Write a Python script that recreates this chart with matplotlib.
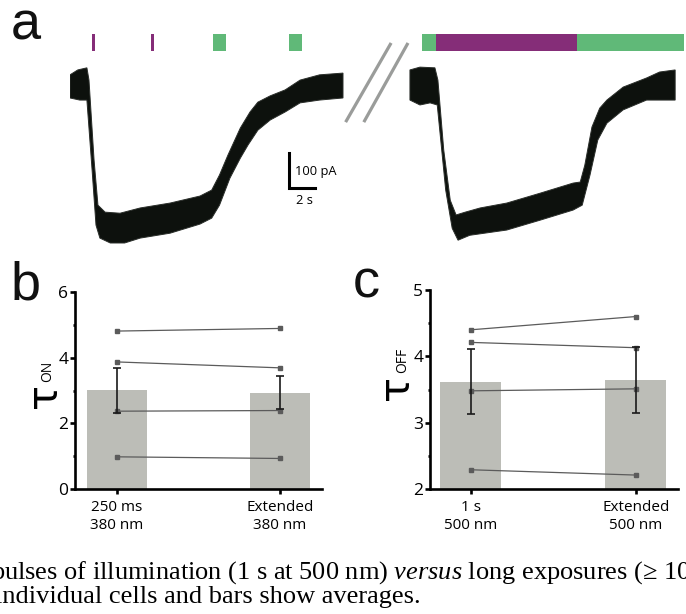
import matplotlib
matplotlib.use("Agg")
import matplotlib.pyplot as plt

# ---- panel a: envelopes of the two noisy current recordings (time s, current pA)
left_top_t = [0.0, 0.6, 1.3, 1.46, 1.85, 2.15, 2.7, 3.85, 5.4, 7.7, 10.0, 10.9, 11.5,
              12.15, 13.1, 13.85, 14.45, 15.4, 16.55, 17.7, 19.2, 21.0]
left_top_i = [29, 43, 49, 14, -214, -343, -363, -366, -351, -337, -317, -300, -257,
              -200, -123, -77, -49, -31, -14, 14, 29, 34]
left_bot_t = [21.0, 19.2, 17.7, 16.55, 15.4, 14.45, 13.7, 13.1, 12.3, 11.5, 10.9, 10.0,
              7.7, 5.4, 4.2, 3.1, 2.3, 2.0, 1.7, 1.3, 0.75, 0.0]
left_bot_i = [-37, -43, -51, -77, -100, -129, -171, -209, -266, -343, -380, -397,
              -423, -437, -451, -451, -437, -400, -243, -43, -43, -37]

right_top_t = [0.0, 0.77, 1.92, 2.15, 2.6, 3.1, 3.55, 4.25, 5.4, 7.45, 10.0, 12.55, 13.1,
               13.45, 14.0, 14.6, 15.15, 16.4, 18.2, 19.2, 20.4]
right_top_i = [43, 51, 49, 14, -186, -329, -371, -363, -351, -337, -309, -280, -277,
               -229, -120, -66, -43, -6, 20, 37, 43]
right_bot_t = [20.4, 19.2, 18.2, 16.4, 15.15, 14.45, 13.85, 13.25, 12.55, 10.0, 7.45,
               4.6, 3.7, 3.25, 2.75, 2.1, 1.55, 0.77, 0.0]
right_bot_i = [-43, -43, -43, -71, -109, -157, -257, -343, -357, -386, -414,
               -429, -443, -409, -300, -57, -51, -57, -43]
right_offset = 26.15  # where the second recording is drawn after the break

# stimulus bars (start s, duration s, wavelength)
left_stim_start = [1.7, 6.2, 11.0, 16.85]
left_stim_dur = [0.25, 0.25, 1.0, 1.0]
left_stim_nm = [380, 380, 500, 500]
right_stim_start = [0.9, 2.0, 12.85]
right_stim_dur = [1.1, 10.85, 8.25]
right_stim_nm = [500, 380, 500]

# ---- panel b: tau ON
on_labels = ["250 ms\n380 nm", "Extended\n380 nm"]
on_mean = [3.01, 2.93]
on_err = [0.69, 0.505]
on_cells = [[4.81, 4.89], [3.87, 3.69], [2.37, 2.39], [0.98, 0.93]]

# ---- panel c: tau OFF
off_labels = ["1 s\n500 nm", "Extended\n500 nm"]
off_mean = [3.62, 3.64]
off_err = [0.49, 0.50]
off_cells = [[4.40, 4.60], [4.21, 4.13], [3.48, 3.51], [2.29, 2.21]]

caption1 = r"pulses of illumination (1 s at 500 nm) $\mathit{versus}$ long exposures (≥ 10 s at 500 nm)"
caption2 = "individual cells and bars show averages."

plt.rcParams["font.family"] = ["Open Sans", "DejaVu Sans"]
plt.rcParams["mathtext.fontset"] = "custom"
plt.rcParams["mathtext.rm"] = "Liberation Serif"
plt.rcParams["mathtext.it"] = "Liberation Serif:italic"

W, H = 686, 614
fig = plt.figure(figsize=(W / 100, H / 100), dpi=100)

STIM_COL = {380: "#852d78", 500: "#60b978"}
TRACE = "#0d110d"
BAR = "#bcbdb7"
CELL = "#5b5b5b"


def px_axes(x0, y0, x1, y1):
    return fig.add_axes([x0 / W, 1 - y1 / H, (x1 - x0) / W, (y1 - y0) / H])


def ftext(x, y, s, **kw):
    fig.text(x / W, 1 - y / H, s, **kw)


# ---------------- panel a
ax = px_axes(70, 30, 686, 250)
ax.set_xlim(0, 616 / 13)
ax.set_ylim(-471, 157)
ax.axis("off")

for off, tt, ti, bt, bi in [(0, left_top_t, left_top_i, left_bot_t, left_bot_i),
                            (right_offset, right_top_t, right_top_i, right_bot_t, right_bot_i)]:
    xs = [t + off for t in tt] + [t + off for t in bt]
    ys = list(ti) + list(bi)
    ax.fill(xs, ys, color=TRACE, lw=0.7, ec="#2a2e2a")

for off, st, du, nm in [(0, left_stim_start, left_stim_dur, left_stim_nm),
                        (right_offset, right_stim_start, right_stim_dur, right_stim_nm)]:
    for s, d, w in zip(st, du, nm):
        ax.fill_between([s + off, s + off + d], 97, 146, color=STIM_COL[w], lw=0)

# break marks
for t0, t1 in [(21.2, 24.7), (22.6, 26.0)]:
    ax.plot([t0, t1], [-106, 120], color="#9a9c9a", lw=2.3, solid_capstyle="butt")

# scale bar: 2 s, 100 pA
sb_t, sb_i = 16.85, -294
ax.plot([sb_t, sb_t, sb_t + 2], [sb_i + 100, sb_i, sb_i], color="black", lw=2.2,
        solid_joinstyle="miter")
ax.text(sb_t + 0.45, -257, "100 pA", fontsize=9.3, va="baseline", ha="left")
ax.text(sb_t + 1.2, -340, "2 s", fontsize=9.3, va="baseline", ha="center")


# ---------------- panels b and c
def bar_panel(ax, labels, mean, err, cells, ylim, major, minor):
    pos = [0, 1]
    ax.bar(pos, mean, width=0.37, color=BAR, zorder=1)
    for c in cells:
        ax.plot(pos, c, color=CELL, lw=0.9, marker="s", ms=2.8, zorder=3)
    ax.errorbar(pos, mean, yerr=err, fmt="none", ecolor="#1a1a1a", elinewidth=1.2,
                capsize=3.2, capthick=1.2, zorder=4)
    ax.set_ylim(*ylim)
    ax.set_yticks(major)
    ax.set_yticks(minor, minor=True)
    ax.set_xticks(pos)
    ax.set_xticklabels(labels, linespacing=1.25)
    for side in ("top", "right"):
        ax.spines[side].set_visible(False)
    for side in ("left", "bottom"):
        ax.spines[side].set_linewidth(1.9)
    ax.tick_params(axis="y", which="major", length=3.6, width=1.9, pad=1.2, labelsize=12.5)
    ax.tick_params(axis="y", which="minor", length=1.8, width=1.9)
    ax.tick_params(axis="x", length=3.6, width=1.9, pad=4.5, labelsize=11)


axb = px_axes(75, 292, 322, 489)
axb.set_xlim(-0.258, 1.258)
bar_panel(axb, on_labels, on_mean, on_err, on_cells, (0, 6), [0, 2, 4, 6], [1, 3, 5])

axc = px_axes(430, 290, 678, 489)
axc.set_xlim(-0.248, 1.255)
bar_panel(axc, off_labels, off_mean, off_err, off_cells, (2, 5), [2, 3, 4, 5],
          [2.5, 3.5, 4.5])

# tau labels
ftext(44, 395, "τ", family="DejaVu Sans", fontsize=30, rotation=90, ha="center", va="center")
ftext(48, 371, "ON", fontsize=10, rotation=90, ha="center", va="center")
ftext(396, 388, "τ", family="DejaVu Sans", fontsize=30, rotation=90, ha="center", va="center")
ftext(403, 360, "OFF", fontsize=10, rotation=90, ha="center", va="center")

# panel letters
for x, y, s in [(11, 40, "a"), (11, 300, "b"), (353, 297, "c")]:
    ftext(x, y, s, family="Liberation Sans", fontsize=39, va="baseline", color="#111")

# caption fragment at the bottom (cut at the page edges as in the source)
ftext(-9, 579, caption1, family="Liberation Serif", fontsize=19, va="baseline")
ftext(-5, 603, caption2, family="Liberation Serif", fontsize=19, va="baseline")

fig.savefig("out.png", dpi=100)
